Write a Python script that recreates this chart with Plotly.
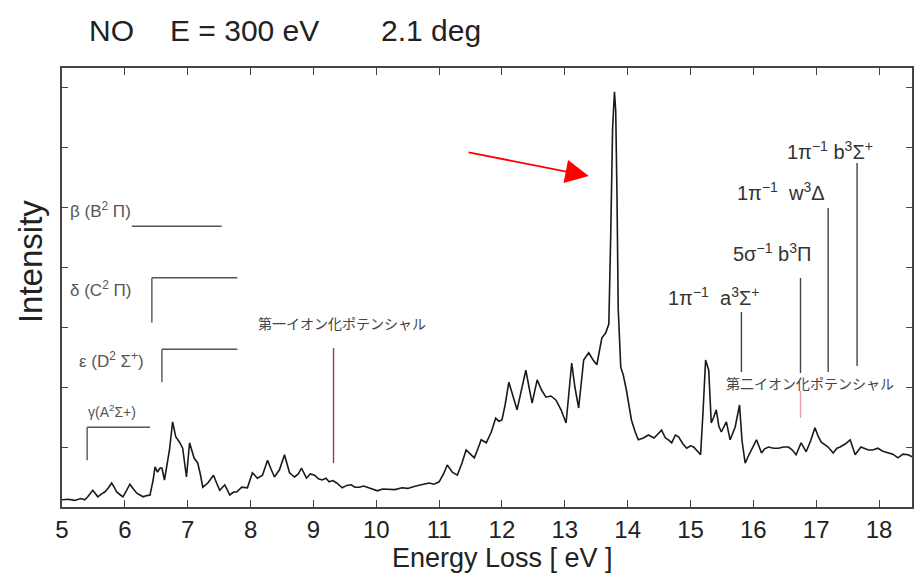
import plotly.graph_objects as go

# ---------------- data ----------------
energy_ev = [
    5.00, 5.10, 5.20, 5.30, 5.36, 5.41, 5.49, 5.57, 5.63, 5.68, 5.74, 5.79, 5.83, 5.87, 5.93, 5.97,
    6.03, 6.08, 6.13, 6.19, 6.24, 6.29, 6.35, 6.40, 6.45, 6.48, 6.52, 6.56, 6.59, 6.63, 6.67, 6.71,
    6.76, 6.81, 6.87, 6.92, 6.98, 7.03, 7.10, 7.16, 7.20, 7.24, 7.32, 7.41, 7.46, 7.51, 7.59, 7.67,
    7.73, 7.78, 7.86, 7.95, 8.03, 8.11, 8.19, 8.27, 8.33, 8.38, 8.46, 8.54, 8.62, 8.70, 8.76, 8.81,
    8.89, 8.95, 9.02, 9.08, 9.14, 9.20, 9.25, 9.31, 9.37, 9.42, 9.46, 9.53, 9.60, 9.66, 9.73, 9.80,
    9.89, 9.95, 10.02, 10.10, 10.21, 10.30, 10.41, 10.50, 10.63, 10.72, 10.84, 10.92, 11.00, 11.07,
    11.13, 11.21, 11.29, 11.36, 11.43, 11.51, 11.56, 11.62, 11.67, 11.75, 11.83, 11.90, 11.95, 12.00,
    12.05, 12.11, 12.18, 12.24, 12.31, 12.38, 12.43, 12.48, 12.56, 12.63, 12.70, 12.78, 12.86, 12.94,
    13.02, 13.07, 13.11, 13.16, 13.22, 13.30, 13.38, 13.45, 13.51, 13.55, 13.59, 13.65, 13.70, 13.73,
    13.76, 13.79, 13.81, 13.83, 13.85, 13.89, 13.93, 13.98, 14.02, 14.06, 14.12, 14.17, 14.25, 14.33,
    14.42, 14.48, 14.54, 14.60, 14.65, 14.70, 14.76, 14.81, 14.88, 14.94, 15.00, 15.05, 15.11, 15.16,
    15.20, 15.24, 15.29, 15.33, 15.37, 15.41, 15.45, 15.49, 15.57, 15.63, 15.71, 15.78, 15.82, 15.87,
    15.92, 15.97, 16.05, 16.13, 16.18, 16.24, 16.32, 16.40, 16.48, 16.56, 16.62, 16.68, 16.76, 16.84,
    16.91, 16.98, 17.03, 17.08, 17.19, 17.27, 17.33, 17.38, 17.46, 17.54, 17.62, 17.71, 17.77, 17.83,
    17.90, 17.98, 18.06, 18.14, 18.22, 18.30, 18.38, 18.46, 18.55,
]
intensity = [
    0.12, 0.13, 0.11, 0.14, 0.12, 0.17, 0.28, 0.17, 0.22, 0.25, 0.32, 0.40, 0.33, 0.25, 0.20, 0.17,
    0.28, 0.38, 0.31, 0.23, 0.20, 0.17, 0.19, 0.20, 0.45, 0.67, 0.58, 0.65, 0.65, 0.45, 0.70, 0.95,
    1.42, 1.17, 1.08, 0.98, 0.50, 1.07, 0.82, 0.73, 0.55, 0.33, 0.40, 0.53, 0.40, 0.28, 0.37, 0.20,
    0.25, 0.25, 0.33, 0.32, 0.57, 0.48, 0.53, 0.78, 0.62, 0.50, 0.62, 0.87, 0.57, 0.50, 0.55, 0.65,
    0.48, 0.55, 0.53, 0.47, 0.45, 0.48, 0.42, 0.44, 0.40, 0.36, 0.32, 0.36, 0.37, 0.33, 0.33, 0.35,
    0.32, 0.30, 0.27, 0.30, 0.30, 0.29, 0.32, 0.31, 0.35, 0.37, 0.40, 0.38, 0.42, 0.55,
    0.70, 0.58, 0.53, 0.72, 0.95, 0.87, 0.82, 0.98, 1.12, 1.07, 1.25, 1.48, 1.43, 1.45,
    1.70, 2.08, 1.85, 1.62, 1.95, 2.28, 2.00, 1.73, 2.12, 1.95, 1.83, 1.85, 1.78, 1.62,
    1.40, 1.90, 2.40, 2.00, 1.65, 2.45, 2.57, 2.45, 2.37, 2.60, 2.82, 2.90, 3.05, 4.50,
    6.30, 6.92, 6.60, 5.20, 3.30, 2.33, 2.20, 1.95, 1.70, 1.45, 1.25, 1.12, 1.15, 1.20,
    1.15, 1.22, 1.28, 1.15, 1.12, 1.07, 1.20, 1.17, 1.05, 0.98, 1.02, 1.00, 0.92, 0.87,
    1.60, 2.45, 2.28, 1.40, 1.50, 1.62, 1.35, 1.25, 1.42, 1.12, 1.33, 1.70, 1.10, 0.73,
    0.85, 0.95, 1.12, 0.90, 0.97, 1.00, 0.98, 0.98, 1.00, 1.00, 0.95, 0.87, 1.07, 0.92,
    1.10, 1.32, 1.18, 1.08, 1.00, 0.90, 0.98, 1.00, 1.05, 1.12, 0.87, 1.00, 0.97, 0.95,
    0.95, 0.98, 0.93, 0.90, 0.88, 0.82, 0.88, 0.87, 0.83,
]
x_ticks = [5, 6, 7, 8, 9, 10, 11, 12, 13, 14, 15, 16, 17, 18]
y_ticks = [1, 2, 3, 4, 5, 6, 7]

# state labels (left brackets) and ionic states (right sticks)
left_labels = ["β (B<sup>2</sup> Π)", "δ (C<sup>2</sup> Π)", "ε (D<sup>2</sup> Σ<sup>+</sup>)", "γ(A<sup>2</sup>Σ+)"]
ion_labels = ["1π<sup>−1</sup>  a<sup>3</sup>Σ<sup>+</sup>", "5σ<sup>−1</sup> b<sup>3</sup>Π",
              "1π<sup>−1</sup>  w<sup>3</sup>Δ", "1π<sup>−1</sup> b<sup>3</sup>Σ<sup>+</sup>"]
ion_energies = [15.81, 16.75, 17.19, 17.65]
ip1_energy = 9.32
ip2_energy = 16.75
ip1_label = "第一イオン化ポテンシャル"
ip2_label = "第二イオン化ポテンシャル"
title_parts = ["NO", "E = 300 eV", "2.1 deg"]

# ---------------- figure ----------------
W, H = 914, 574
L, R, T, B = 62, 0, 68, 67
XMIN, XMAX = 5.0, 18.524
YMIN, YMAX = 0.0, 7.317
FONT = "Liberation Sans, Arial"

fig = go.Figure()
fig.add_trace(go.Scatter(x=energy_ev, y=intensity, mode="lines",
                         line=dict(color="#1a1a1a", width=1.6), showlegend=False,
                         hoverinfo="skip"))

def line(x0, y0, x1, y1, color="#555555", width=1.4):
    fig.add_shape(type="line", xref="x", yref="y", x0=x0, y0=y0, x1=x1, y1=y1,
                  line=dict(color=color, width=width))

def px2x(px):
    return XMIN + (px - L) / (W - L - R) * (XMAX - XMIN)

def py2y(py):
    return (H - B - py) / (H - B - T) * (YMAX - YMIN)

def ppx(px):
    return (px - L) / (W - L - R)

def ppy(py):
    return (H - B - py) / (H - B - T)

# left bracket markers
line(6.11, 4.68, 7.54, 4.68)
line(6.43, 3.82, 7.79, 3.82); line(6.43, 3.82, 6.43, 3.07)
line(6.59, 2.63, 7.79, 2.63); line(6.59, 2.63, 6.59, 2.08)
line(5.40, 1.33, 6.40, 1.33); line(5.40, 1.33, 5.40, 0.78)

# ionisation potentials (red)
line(ip1_energy, py2y(348), ip1_energy, py2y(463), color="#a33a3a", width=1.4)
line(ip2_energy, py2y(391), ip2_energy, py2y(418), color="#e8a0a8", width=1.4)

# ionic state sticks
stick_tops = [312, 278, 208, 163]
stick_bots = [372, 373, 372, 366]
for e, t, b in zip(ion_energies, stick_tops, stick_bots):
    line(e, py2y(t), e, py2y(b), color="#444444", width=1.4)

def text(s, px, py, size, anchor="center", color="#333333", family=FONT):
    fig.add_annotation(x=px2x(px), y=py2y(py), xref="x", yref="y", text=s, showarrow=False,
                       xanchor=anchor, yanchor="middle",
                       font=dict(size=size, color=color, family=family))

# left labels
text(left_labels[0], 68, 210, 17, anchor="left", color="#555555")
text(left_labels[1], 68, 289, 17, anchor="left", color="#555555")
text(left_labels[2], 77, 360, 17, anchor="left", color="#555555")
text(left_labels[3], 86, 411, 14, anchor="left", color="#555555")

# right labels
text(ion_labels[0], 716, 296, 20)
text(ion_labels[1], 774, 252, 20)
text(ion_labels[2], 783, 191, 20)
text(ion_labels[3], 832, 150, 20)

# japanese labels
text(ip1_label, 343, 323, 14, color="#444444", family="Noto Sans CJK JP")
text(ip2_label, 812, 383, 14, color="#444444", family="Noto Sans CJK JP")

# red arrow
fig.add_annotation(x=px2x(590), y=py2y(176), ax=px2x(468), ay=py2y(152),
                   xref="x", yref="y", axref="x", ayref="y", text="", showarrow=True,
                   arrowhead=2, arrowsize=2.6, arrowwidth=1.8, arrowcolor="#ff0000")

# title pieces
for s, px in zip(title_parts, [87, 168, 380]):
    fig.add_annotation(x=ppx(px), y=ppy(31), xref="paper", yref="paper",
                       text=s, showarrow=False, xanchor="left", yanchor="middle",
                       font=dict(size=30, color="#222222", family=FONT))

# axis titles
fig.add_annotation(x=ppx(30), y=ppy(262), xref="paper", yref="paper",
                   text="Intensity", showarrow=False, textangle=-90, xanchor="center", yanchor="middle",
                   font=dict(size=33, color="#222222", family=FONT))
fig.add_annotation(x=ppx(504), y=ppy(558), xref="paper", yref="paper",
                   text="Energy Loss [ eV ]", showarrow=False, xanchor="center", yanchor="middle",
                   font=dict(size=27, color="#222222", family=FONT))

fig.update_layout(
    width=W, height=H,
    margin=dict(l=L, r=R, t=T, b=B, pad=0),
    paper_bgcolor="white", plot_bgcolor="white",
    showlegend=False,
    xaxis=dict(range=[XMIN, XMAX], tickvals=x_ticks, ticktext=[str(v) for v in x_ticks],
               ticks="inside", ticklen=7, tickwidth=1.2, tickcolor="#444444",
               showline=True, linecolor="#444444", linewidth=2, mirror="ticks",
               showgrid=False, zeroline=False,
               tickfont=dict(size=24, color="#222222", family=FONT)),
    yaxis=dict(range=[YMIN, YMAX], tickvals=y_ticks, showticklabels=False,
               ticks="inside", ticklen=6, tickwidth=1.2, tickcolor="#444444",
               showline=True, linecolor="#444444", linewidth=2, mirror="ticks",
               showgrid=False, zeroline=False),
)

fig.write_html("out.html", config={"displayModeBar": False},
               post_script="document.body.style.margin='0';document.body.style.overflow='hidden';")
